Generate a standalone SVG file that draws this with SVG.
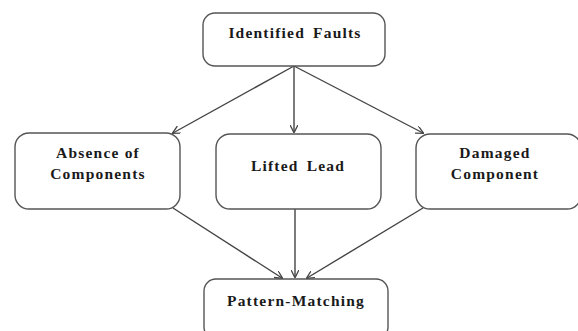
<svg xmlns="http://www.w3.org/2000/svg" width="578" height="331" viewBox="0 0 578 331">
<style>
.box{fill:#fff;stroke:#555;stroke-width:1.4}
.t{font-family:"Liberation Serif","Times New Roman",serif;font-weight:bold;font-size:15.5px;letter-spacing:1.2px;fill:#1a1a1a;text-anchor:middle}
.c{stroke:#444;stroke-width:1.4;fill:none;marker-end:url(#ah)}
</style>
<defs>
<marker id="ah" viewBox="0 0 10 10" refX="9" refY="5" markerWidth="8" markerHeight="8" markerUnits="userSpaceOnUse" orient="auto">
<path d="M0,0 L10,5 L0,10" fill="none" stroke="#444" stroke-width="1.6"/>
</marker>
</defs>
<rect width="578" height="331" fill="#fff"/>
<g id="connectors">
<line class="c" x1="294" y1="66" x2="173" y2="133"/>
<line class="c" x1="294" y1="66" x2="294" y2="132"/>
<line class="c" x1="294" y1="66" x2="423" y2="133"/>
<line class="c" x1="173" y1="208" x2="282" y2="278"/>
<line class="c" x1="295" y1="209" x2="295" y2="277"/>
<line class="c" x1="423" y1="208" x2="307" y2="278"/>
</g>
<g id="identified-faults">
<rect class="box" x="203" y="13" width="182" height="53" rx="12"/>
<text class="t" x="295" y="38" word-spacing="3">Identified Faults</text>
</g>
<g id="absence-of-components">
<rect class="box" x="15" y="133" width="165" height="76" rx="14"/>
<text class="t" x="98" y="158">Absence of</text>
<text class="t" x="98" y="179">Components</text>
</g>
<g id="lifted-lead">
<rect class="box" x="216" y="134" width="165" height="75" rx="14"/>
<text class="t" x="298" y="171" word-spacing="3">Lifted Lead</text>
</g>
<g id="damaged-component">
<rect class="box" x="416" y="134" width="165" height="75" rx="14"/>
<text class="t" x="495" y="158">Damaged</text>
<text class="t" x="495" y="179">Component</text>
</g>
<g id="pattern-matching">
<rect class="box" x="204" y="279" width="184" height="60" rx="12"/>
<text class="t" x="296" y="306">Pattern-Matching</text>
</g>
</svg>
